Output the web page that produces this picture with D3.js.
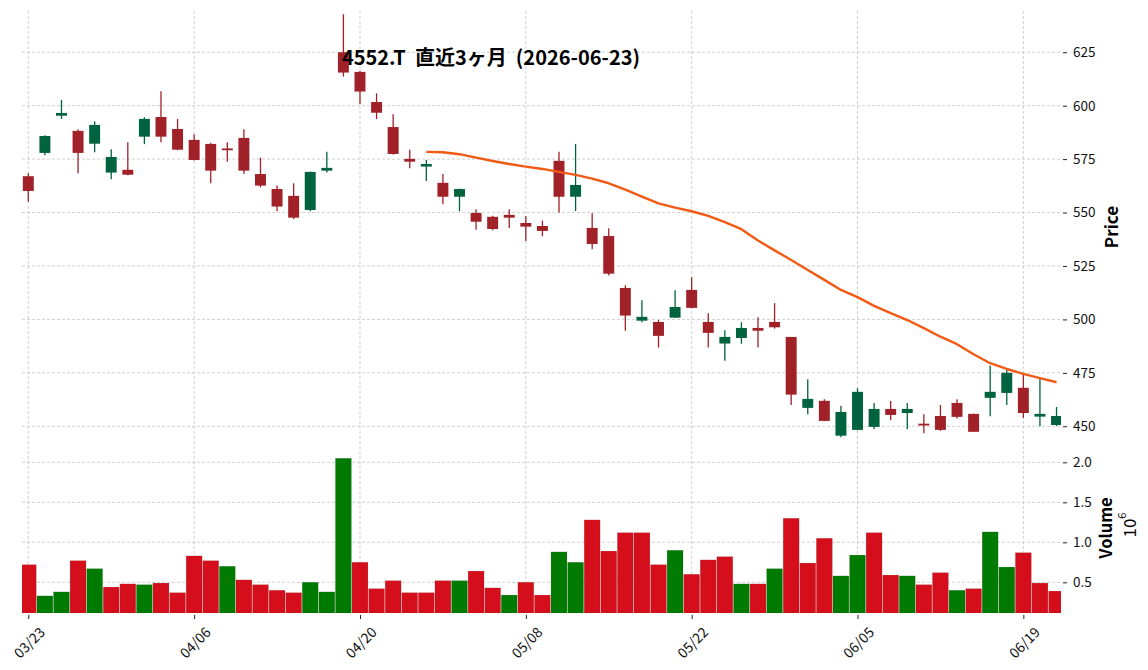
<!DOCTYPE html>
<html><head><meta charset="utf-8">
<script src="https://cdn.jsdelivr.net/npm/d3@7"></script>
<style>
body{margin:0;background:#fff}
svg{display:block}
text{font-family:"Noto Sans CJK JP","Noto Sans",sans-serif}
</style>
</head><body><svg id="c" width="1148" height="670"></svg>
<script>
// ---- data ----
const dates = ["03/23","03/24","03/25","03/26","03/27","03/30","03/31","04/01","04/02","04/03",
"04/06","04/07","04/08","04/09","04/10","04/13","04/14","04/15","04/16","04/17",
"04/20","04/21","04/22","04/23","04/24","04/27","04/28","04/30","05/01","05/07",
"05/08","05/11","05/12","05/13","05/14","05/15","05/18","05/19","05/20","05/21",
"05/22","05/25","05/26","05/27","05/28","05/29","06/01","06/02","06/03","06/04",
"06/05","06/08","06/09","06/10","06/11","06/12","06/15","06/16","06/17","06/18",
"06/19","06/22","06/23"];
const opens = [567,577.9,595.3,588.2,582.2,568.7,570,585.5,594.7,589.1,
584,582.1,580,584.9,568,561,557.8,551.2,569.6,625,
615.8,601.7,590,575.1,571.5,563.9,557.4,549.8,548,548.9,
545.1,543.7,574.2,557.4,542.8,539,514.7,499.4,498.8,500.8,
513.8,498.8,488.7,491.3,496,498.8,491.8,458.6,461.9,445.6,
448.3,449.7,458.1,456.2,451.2,454.8,460.9,455.8,463.3,465.6,
468,454.5,450.6];
const highs = [568.4,586.2,602.7,589,592.7,579.6,582.9,594.6,606.8,593.8,
586.6,582.7,582.9,589,575.7,562.6,563.7,569.2,578.5,642.8,
616.4,605.8,596,579.4,574.6,568,561.2,551.5,548.5,551.5,
548.4,546.2,578.5,582.1,549.7,542.7,516,509,499.7,513.6,
519.7,502.9,494.9,498.7,501,507.6,491.8,472,462.6,459.6,
467.8,460.9,461.8,460.9,455.6,460,462.6,455.9,478.4,476.3,
474.9,473.1,459];
const lows = [555.1,576.8,593.8,568.4,578.2,565.6,567.5,582,582.9,579.2,
574.4,563.7,573.8,568,561.8,550.6,546.9,550.6,568.7,613.6,
600.7,593.7,577.2,570.7,564.8,553.9,550.6,541.9,541.7,542.8,
536.7,538.9,550,550.7,532.8,520.5,494.7,498.7,486.8,500.6,
505.2,486.8,480.7,488.6,486.8,495.7,460,455.6,452.3,444.9,
448.1,448.6,452.8,448.6,446.7,447.8,453.6,447.3,454.7,460,
453.9,450,450.1];
const closes = [560.1,585.8,596.6,577.9,591,576,567.7,593.8,585.5,579.4,
574.6,569.6,579.5,569.6,562.6,552.8,547.6,569,570.9,615.5,
606.6,596.7,577.4,573.8,572.7,557.4,561,545.7,542.3,547.6,
543.4,541.4,557.4,562.9,535.3,521.4,501.8,501.2,492.3,505.8,
505.4,493.7,491.8,496,494.7,496.3,464.8,462.8,452.5,456.7,
466.1,458.1,455.3,458.1,450.9,448.3,454.4,447.4,466.1,475,
456.2,455.8,454.8];
const volumes = [720000,330000,380000,770000,670000,440000,480000,470000,490000,370000,
830000,770000,700000,530000,470000,400000,370000,500000,380000,2050000,
750000,420000,520000,370000,370000,520000,520000,640000,430000,340000,
500000,340000,880000,750000,1280000,890000,1120000,1120000,720000,900000,
600000,780000,820000,480000,480000,670000,1300000,740000,1050000,580000,
840000,1120000,590000,580000,470000,620000,400000,420000,1130000,690000,
870000,490000,390000];
const ma25 = [null,null,null,null,null,null,null,null,null,null,
null,null,null,null,null,null,null,null,null,null,
null,null,null,null,578.4,578.2,577.3,575.7,574.1,572.7,
571.5,570.4,569,567.6,565.9,563.7,560.7,557.4,554.3,552.3,
550.6,548.4,545.5,542.2,536.9,532.3,527.8,523.1,518.5,513.8,
510.4,506.3,502.9,499.7,495.9,491.9,488.4,483.7,479.5,476.8,
474.5,472.5,470.6];
const xTickLabels = ["03/23","04/06","04/20","05/08","05/22","06/05","06/19"];
const priceTicks = [450,475,500,525,550,575,600,625];
const volumeTicks = [500000,1000000,1500000,2000000];
const title = "4552.T  直近3ヶ月  (2026-06-23)";

// ---- layout ----
const L = 22, R = 1061, PT = 11, PB = 441, VT = 442, VB = 613;
const upC = "#006340", dnC = "#a02128", vUp = "#007a00", vDn = "#d40f1b", maC = "#f25a14", gridC = "#c4c4c4";

const svg = d3.select("#c");
const x = d3.scaleLinear().domain([-0.38, 62.27]).range([L, R]);
const yP = d3.scaleLinear().domain([443.1, 644.3]).range([PB, PT]);
const yV = d3.scaleLinear().domain([116000, 2254000]).range([VB, VT]);
const step = x(1) - x(0);

const defs = svg.append("defs");
defs.append("clipPath").attr("id","cp").append("rect").attr("x",L).attr("y",PT).attr("width",R-L).attr("height",PB-PT);
defs.append("clipPath").attr("id","cv").append("rect").attr("x",L).attr("y",VT).attr("width",R-L).attr("height",VB-VT);

// grid
const tickIdx = xTickLabels.map(l => dates.indexOf(l));
const grid = svg.append("g").attr("stroke", gridC).attr("stroke-width", 0.8).attr("stroke-dasharray","3,2").attr("fill","none");
grid.selectAll(".gv").data(tickIdx).join("line").attr("x1",d=>x(d)).attr("x2",d=>x(d)).attr("y1",PT).attr("y2",VB);
grid.selectAll(".gp").data(priceTicks).join("line").attr("class","gp").attr("x1",L).attr("x2",R).attr("y1",d=>yP(d)).attr("y2",d=>yP(d));
grid.selectAll(".gvol").data(volumeTicks).join("line").attr("class","gvol").attr("x1",L).attr("x2",R).attr("y1",d=>yV(d)).attr("y2",d=>yV(d));

// volume bars
const vcol = i => (i === 0 ? (closes[0] >= opens[0]) : (closes[i] >= closes[i-1])) ? vUp : vDn;
svg.append("g").attr("clip-path","url(#cv)").selectAll("rect").data(volumes).join("rect")
  .attr("x",(d,i)=>x(i-0.48)).attr("width",step*0.96)
  .attr("y",d=>yV(d)).attr("height",d=>VB-yV(d))
  .attr("fill",(d,i)=>vcol(i)).attr("stroke","rgba(0,0,0,0.12)").attr("stroke-width",0.6);

// candles
const cg = svg.append("g").attr("clip-path","url(#cp)");
const idx = d3.range(dates.length);
const ccol = i => closes[i] >= opens[i] ? upC : dnC;
cg.selectAll("line").data(idx).join("line")
  .attr("x1",i=>x(i)).attr("x2",i=>x(i)).attr("y1",i=>yP(highs[i])).attr("y2",i=>yP(lows[i]))
  .attr("stroke",i=>ccol(i)).attr("stroke-width",1.3);
const bw = step*0.66;
cg.selectAll("rect").data(idx).join("rect")
  .attr("x",i=>x(i)-bw/2).attr("width",bw)
  .attr("y",i=>yP(Math.max(opens[i],closes[i])))
  .attr("height",i=>Math.max(1.8, Math.abs(yP(opens[i])-yP(closes[i]))))
  .attr("fill",i=>ccol(i));

// moving average
const line = d3.line().defined(d=>d!=null).x((d,i)=>x(i)).y(d=>yP(d));
cg.append("path").datum(ma25).attr("d",line).attr("fill","none").attr("stroke",maC).attr("stroke-width",2.4).attr("stroke-linejoin","round");

// axes
function styleAxis(g, fs){
  g.select(".domain").remove();
  g.selectAll(".tick line").attr("stroke","#222").attr("stroke-width",1);
  g.selectAll(".tick text").attr("fill","#111").style("font-size",fs).style("font-family",'"Noto Sans CJK JP","Noto Sans",sans-serif');
}
svg.append("g").attr("transform",`translate(${R+2},0)`)
  .call(d3.axisRight(yP).tickValues(priceTicks).tickSize(4).tickPadding(6).tickFormat(d3.format("d"))).call(styleAxis, "13.5px");
svg.append("g").attr("transform",`translate(${R+2},0)`)
  .call(d3.axisRight(yV).tickValues(volumeTicks).tickSize(4).tickPadding(6).tickFormat(d=>(d/1e6).toFixed(1))).call(styleAxis, "13.5px");
const xa = svg.append("g").attr("transform",`translate(0,${VB+2})`)
  .call(d3.axisBottom(x).tickValues(tickIdx).tickSize(4).tickFormat(i=>dates[i])).call(styleAxis, "14px");
xa.selectAll(".tick text").attr("y",0).attr("dy",0)
  .attr("text-anchor","middle").attr("dominant-baseline","central")
  .attr("transform","translate(0,27) rotate(-45)");

// labels
svg.append("text").attr("x",491).attr("y",56).attr("text-anchor","middle").attr("dominant-baseline","central")
  .style("font-size","20px").style("font-weight","bold").style("white-space","pre").attr("fill","#000").text(title);
svg.append("text").attr("transform","translate(1110,227) rotate(-90)").attr("text-anchor","middle").attr("dominant-baseline","central")
  .style("font-size","17px").style("font-weight","bold").text("Price");
svg.append("text").attr("transform","translate(1105,528) rotate(-90)").attr("text-anchor","middle").attr("dominant-baseline","central")
  .style("font-size","16.5px").style("font-weight","bold").text("Volume");
const e = svg.append("text").attr("transform","translate(1128,525) rotate(-90)").attr("text-anchor","middle").attr("dominant-baseline","central")
  .style("font-size","17px");
e.append("tspan").text("10");
e.append("tspan").attr("dy",-7).style("font-size","11px").text("6");
</script></body></html>
